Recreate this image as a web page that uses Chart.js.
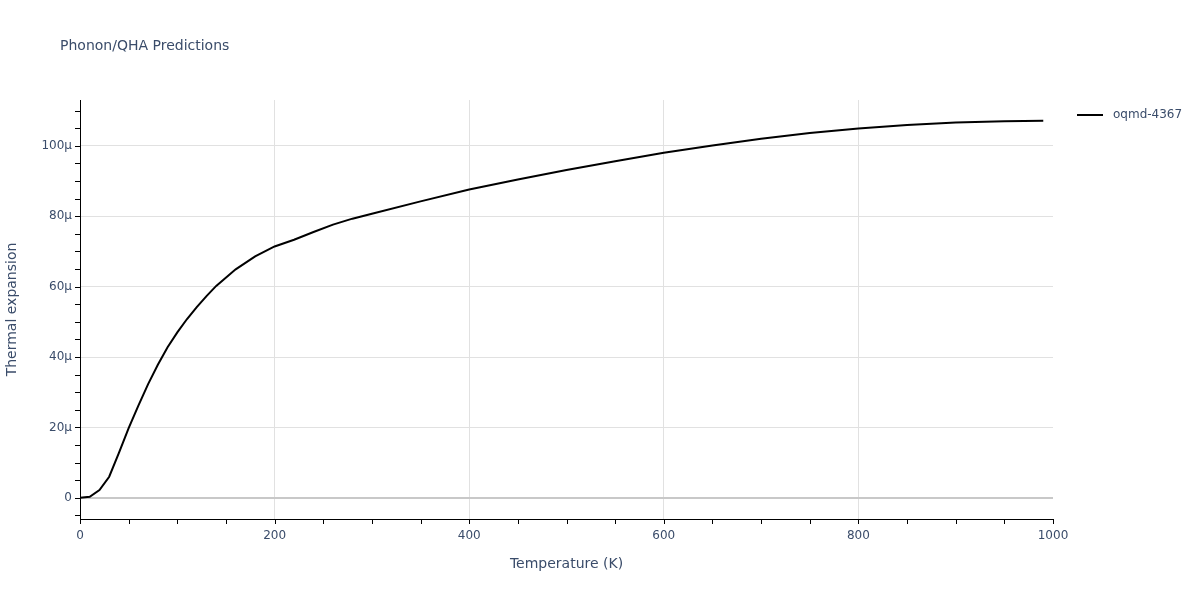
<!DOCTYPE html>
<html>
<head>
<meta charset="utf-8">
<script src="https://cdn.jsdelivr.net/npm/chart.js@4.4.1/dist/chart.umd.min.js"></script>
<style>
  html, body { margin: 0; padding: 0; background: #ffffff; }
  #wrap { width: 1200px; height: 600px; position: relative; }
</style>
</head>
<body>
<div id="wrap"><canvas id="c" width="1200" height="600"></canvas></div>
<script>
// ---- data ----
const temperatures = [0, 10, 20, 30, 40, 50, 60, 70, 80, 90, 100, 110, 120, 130, 140, 160, 180, 200, 220, 240, 260, 280, 300, 350, 400, 450, 500, 550, 600, 650, 700, 750, 800, 850, 900, 950, 990];
const expansionMicro = [0, 0.3, 2.2, 6.0, 12.8, 19.8, 26.2, 32.3, 37.8, 42.8, 47.0, 50.8, 54.2, 57.3, 60.2, 64.9, 68.6, 71.4, 73.3, 75.5, 77.6, 79.3, 80.7, 84.2, 87.6, 90.4, 93.1, 95.6, 98.0, 100.1, 102.0, 103.6, 104.9, 105.9, 106.6, 107.0, 107.1];
const seriesName = 'oqmd-4367';
const chartTitle = 'Phonon/QHA Predictions';
const xTitle = 'Temperature (K)';
const yTitle = 'Thermal expansion';
const xMajorTicks = [0, 200, 400, 600, 800, 1000];
const xTickLabels = ['0', '200', '400', '600', '800', '1000'];
const yMajorTicks = [0, 20e-6, 40e-6, 60e-6, 80e-6, 100e-6];
const yTickLabels = ['0', '20μ', '40μ', '60μ', '80μ', '100μ'];

const FONT = '"DejaVu Sans", verdana, sans-serif';
const TEXT = '#3a4c6a';

const points = temperatures.map((t, i) => ({ x: t, y: expansionMicro[i] * 1e-6 }));

const decor = {
  id: 'decor',
  afterDraw(chart) {
    const ctx = chart.ctx;
    const xs = chart.scales.x, ys = chart.scales.y;
    const ca = chart.chartArea;
    ctx.save();
    // minor + major tick marks
    ctx.strokeStyle = '#000000';
    ctx.lineWidth = 1;
    ctx.beginPath();
    for (let v = 0; v <= 1000; v += 50) {
      const px = Math.round(xs.getPixelForValue(v)) + 0.5;
      ctx.moveTo(px, ca.bottom);
      ctx.lineTo(px, ca.bottom + 5);
    }
    for (let v = -5; v <= 110; v += 5) {
      const py = Math.round(ys.getPixelForValue(v * 1e-6)) + 0.5;
      ctx.moveTo(ca.left - 5, py);
      ctx.lineTo(ca.left, py);
    }
    ctx.stroke();
    // title
    ctx.fillStyle = TEXT;
    ctx.font = '14px ' + FONT;
    ctx.textBaseline = 'alphabetic';
    ctx.textAlign = 'left';
    ctx.fillText(chartTitle, 60, 50);
    // legend
    ctx.strokeStyle = '#000000';
    ctx.lineWidth = 2;
    ctx.beginPath();
    ctx.moveTo(1077, 115);
    ctx.lineTo(1103, 115);
    ctx.stroke();
    ctx.font = '12px ' + FONT;
    ctx.textBaseline = 'middle';
    ctx.fillText(seriesName, 1113, 115);
    ctx.restore();
  }
};

new Chart(document.getElementById('c'), {
  type: 'line',
  data: {
    datasets: [{
      label: seriesName,
      data: points,
      borderColor: '#000000',
      backgroundColor: '#000000',
      borderWidth: 2,
      pointRadius: 0,
      tension: 0,
      fill: false
    }]
  },
  options: {
    responsive: false,
    animation: false,
    events: [],
    layout: { padding: { left: 0, right: 147, top: 100, bottom: 0 } },
    plugins: { legend: { display: false }, title: { display: false }, tooltip: { enabled: false } },
    scales: {
      x: {
        type: 'linear',
        min: 0, max: 1000,
        afterBuildTicks(s) { s.ticks = xMajorTicks.map(v => ({ value: v })); },
        afterFit(s) { s.height = 81; },
        grid: {
          color: c => (c.tick && (c.tick.value === 0 || c.tick.value === 1000)) ? 'rgba(0,0,0,0)' : '#e1e1e1',
          lineWidth: 1,
          drawTicks: false
        },
        border: { display: true, color: '#000000', width: 1 },
        ticks: {
          color: TEXT, font: { family: FONT, size: 12 }, padding: 10, maxRotation: 0,
          callback: (v) => { const i = xMajorTicks.indexOf(v); return i >= 0 ? xTickLabels[i] : ''; }
        },
        title: { display: true, text: xTitle, color: TEXT, font: { family: FONT, size: 14 }, padding: { top: 0, bottom: 27 } }
      },
      y: {
        type: 'linear',
        min: -6e-6, max: 113e-6,
        afterBuildTicks(s) { s.ticks = yMajorTicks.map(v => ({ value: v })); },
        afterFit(s) { s.width = 80; },
        grid: {
          color: c => (c.tick && c.tick.value === 0) ? '#c8c8c8' : '#e1e1e1',
          lineWidth: c => (c.tick && c.tick.value === 0) ? 2 : 1,
          drawTicks: false
        },
        border: { display: true, color: '#000000', width: 1 },
        ticks: {
          color: TEXT, font: { family: FONT, size: 12 }, padding: 8,
          callback: (v) => { const i = yMajorTicks.indexOf(v); return i >= 0 ? yTickLabels[i] : ''; }
        },
        title: { display: true, text: yTitle, color: TEXT, font: { family: FONT, size: 14 }, padding: { top: 4, bottom: 0 } }
      }
    }
  },
  plugins: [decor]
});
</script>
</body>
</html>
